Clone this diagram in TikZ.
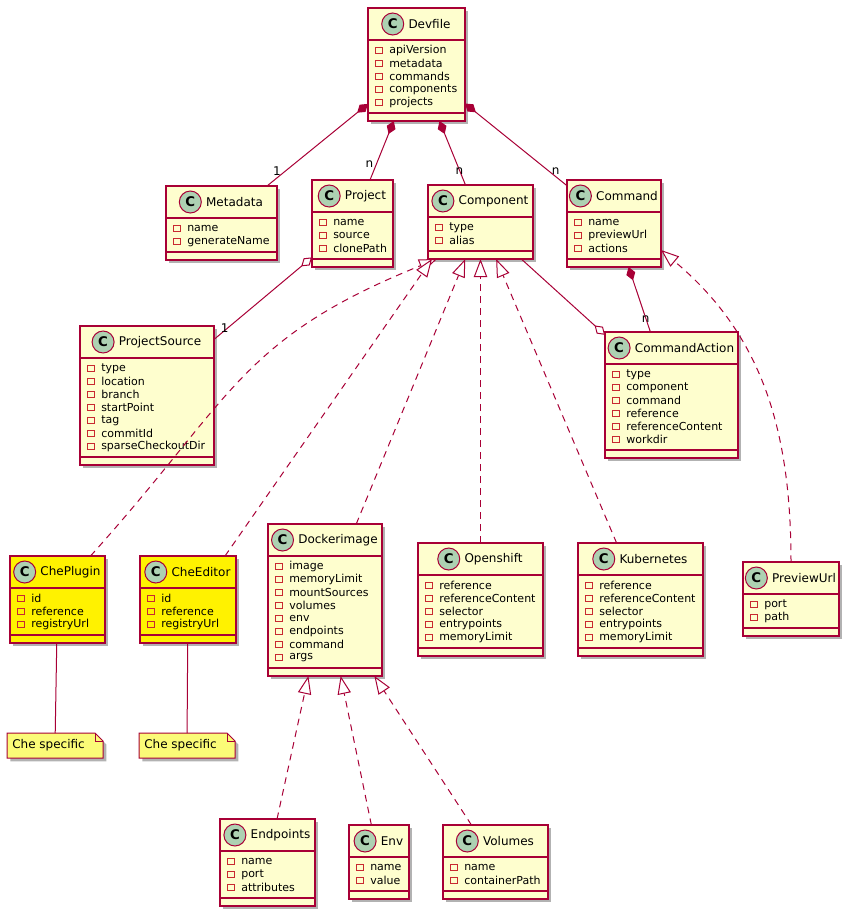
\documentclass[tikz,border=0pt]{standalone}
\usepackage{fontspec}
\setmainfont{DejaVu Sans}
\usetikzlibrary{arrows.meta}
\usetikzlibrary{positioning}
\usetikzlibrary{calc}
\usetikzlibrary{shadows}

\definecolor{umlred}{HTML}{A80036}
\definecolor{umlfill}{HTML}{FEFECE}
\definecolor{umlmark}{HTML}{ADD1B2}
\definecolor{umlicon}{HTML}{C82930}
\definecolor{umlnote}{HTML}{FBFB77}

\tikzset{
  classbox/.style={draw=umlred, fill=umlfill, line width=1pt, inner sep=0pt, outer sep=0pt,
    drop shadow={shadow xshift=2.5pt, shadow yshift=-2.5pt, fill=black, opacity=0.3}},
  classline/.style={draw=umlred, line width=1pt},
  classname/.style={inner sep=0pt, font=\fontsize{9}{10}\selectfont},
  classmark/.style={circle, draw=umlred, fill=umlmark, line width=0.75pt, minimum size=16.5pt,
    inner sep=0pt, font=\fontsize{10}{10}\selectfont\bfseries},
  attrtext/.style={anchor=west, inner sep=0pt, font=\fontsize{8.25}{9}\selectfont},
  attricon/.style={draw=umlicon, line width=0.6pt, minimum size=5pt, inner sep=0pt},
  link/.style={draw=umlred, line width=0.75pt},
  composed/.style={link, {Diamond[length=10.5pt,width=7pt]}-},
  aggregated/.style={link, {Diamond[length=10.5pt,width=7pt,open,fill=white]}-},
  aggregating/.style={link, -{Diamond[length=10.5pt,width=7pt,open,fill=white]}},
  realizes/.style={link, dash pattern=on 5pt off 4pt, -{Triangle[open,length=13.5pt,width=10pt,fill=white]}},
  mult/.style={inner sep=0pt, font=\fontsize{9}{10}\selectfont},
  notebox/.style={inner sep=0pt, outer sep=0pt, minimum width=72pt, minimum height=18.75pt},
  noteshape/.style={draw=umlred, fill=umlnote, line width=0.75pt,
    drop shadow={shadow xshift=2.5pt, shadow yshift=-2.5pt, fill=black, opacity=0.3}},
  notetext/.style={anchor=west, inner sep=0pt, font=\fontsize{9}{10}\selectfont},
}

% class box: [style] name, left, top, width, number of fields, title, fields
\newcommand{\umlclass}[8][]{%
  \node[classbox, #1, anchor=north west, minimum width=#5*0.75pt,
    minimum height=(48+13*#6)*0.75pt] (#2) at (#3,#4) {};
  \draw[classline] ($(#2.north west)+(0,32)$) -- ($(#2.north east)+(0,32)$);
  \draw[classline] ($(#2.north west)+(0,40+13*#6)$) -- ($(#2.north east)+(0,40+13*#6)$);
  \node[classname] (#2-name) at ($(#2.north)+(13,16)$) {#7};
  \node[classmark, left=3pt of #2-name] (#2-mark) {C};
  \foreach \f [count=\i] in {#8} {
    \node[attricon] at ($(#2.north west)+(11,29.5+13*\i)$) {};
    \node[attrtext] at ($(#2.north west)+(21,29.5+13*\i)$) {\f};
  }%
}

% note: name, left, top, text
\newcommand{\umlnote}[4]{%
  \node[notebox, anchor=north west] (#1) at (#2,#3) {};
  \filldraw[noteshape] (#1.north west) -- ($(#1.north east)+(-8,0)$) -- ($(#1.north east)+(0,8)$)
    -- (#1.south east) -- (#1.south west) -- cycle;
  \draw[link] ($(#1.north east)+(-8,0)$) |- ($(#1.north east)+(0,8)$);
  \node[notetext] at ($(#1.west)+(5,0)$) {#4};
}

\begin{document}
\begin{tikzpicture}[x=0.75pt, y=-0.75pt]
    \useasboundingbox (0,0) rectangle (849,915);

    % Top level.
    \umlclass{Devfile}{368}{8}{97}{5}{Devfile}{apiVersion,metadata,commands,components,projects}

    % Second row.
    \umlclass{Metadata}{166}{186}{111}{2}{Metadata}{name,generateName}
    \umlclass{Project}{312}{180}{81}{3}{Project}{name,source,clonePath}
    \umlclass{Component}{428}{185}{105}{2}{Component}{type,alias}
    \umlclass{Command}{567}{180}{94}{3}{Command}{name,previewUrl,actions}

    % Third row.
    \umlclass{ProjectSource}{80}{326}{134}{7}{ProjectSource}{type,location,branch,startPoint,tag,commitId,sparseCheckoutDir}
    \umlclass{CommandAction}{605}{332}{133}{6}{CommandAction}{type,component,command,reference,referenceContent,workdir}

    % Component types.
    \umlclass[fill=yellow]{ChePlugin}{10}{556}{95}{3}{ChePlugin}{id,reference,registryUrl}
    \umlclass[fill=yellow]{CheEditor}{140}{556}{96}{3}{CheEditor}{id,reference,registryUrl}
    \umlclass{Dockerimage}{268}{524}{114}{8}{Dockerimage}{image,memoryLimit,mountSources,volumes,env,endpoints,command,args}
    \umlclass{Openshift}{418}{543}{125}{5}{Openshift}{reference,referenceContent,selector,entrypoints,memoryLimit}
    \umlclass{Kubernetes}{578}{543}{125}{5}{Kubernetes}{reference,referenceContent,selector,entrypoints,memoryLimit}
    \umlclass{PreviewUrl}{743}{562}{96}{2}{PreviewUrl}{port,path}

    % Dockerimage parts.
    \umlclass{Endpoints}{220}{819}{95}{3}{Endpoints}{name,port,attributes}
    \umlclass{Env}{349}{825}{60}{2}{Env}{name,value}
    \umlclass{Volumes}{443}{825}{105}{2}{Volumes}{name,containerPath}

    % Notes.
    \umlnote{pluginNote}{7}{733}{Che specific}
    \umlnote{editorNote}{139}{733}{Che specific}

    % Devfile composition.
    \draw[composed] (Devfile) -- (Metadata) node[mult, pos=0.82, left=3pt] {1};
    \draw[composed] (Devfile) -- (Project) node[mult, pos=0.73, left=2pt] {n};
    \draw[composed] (Devfile) -- (Component) node[mult, pos=0.78, left=-3pt] {n};
    \draw[composed] (Devfile) -- (Command) node[mult, pos=0.82, right=2pt] {n};

    % Aggregations.
    \draw[aggregated] (Project) -- (ProjectSource) node[mult, pos=0.86, left=-1pt] {1};
    \draw[aggregating] (Component) -- (CommandAction);
    \draw[composed] (Command) -- (CommandAction) node[mult, pos=0.8, left=-3pt] {n};

    % Component types.
    \draw[realizes] ($(ChePlugin.north)+(33,0)$) to[out=48, in=-158, looseness=1.2] ($(Component.south west)+(9,0)$);
    \draw[realizes] ($(CheEditor.north)+(37,0)$) -- ($(Component.south west)+(4,0)$);
    \draw[realizes] (Dockerimage) -- (Component);
    \draw[realizes] (Openshift) -- (Component);
    \draw[realizes] (Kubernetes) -- (Component);
    \draw[realizes] (PreviewUrl.north) to[out=90, in=-40] ($(Command.south east)+(0,-17)$);

    % Dockerimage parts.
    \draw[realizes] (Endpoints) -- (Dockerimage);
    \draw[realizes] (Env) -- (Dockerimage);
    \draw[realizes] (Volumes) -- (Dockerimage);

    % Note links.
    \draw[link] (ChePlugin) -- (pluginNote);
    \draw[link] (CheEditor) -- (editorNote);
\end{tikzpicture}
\end{document}
